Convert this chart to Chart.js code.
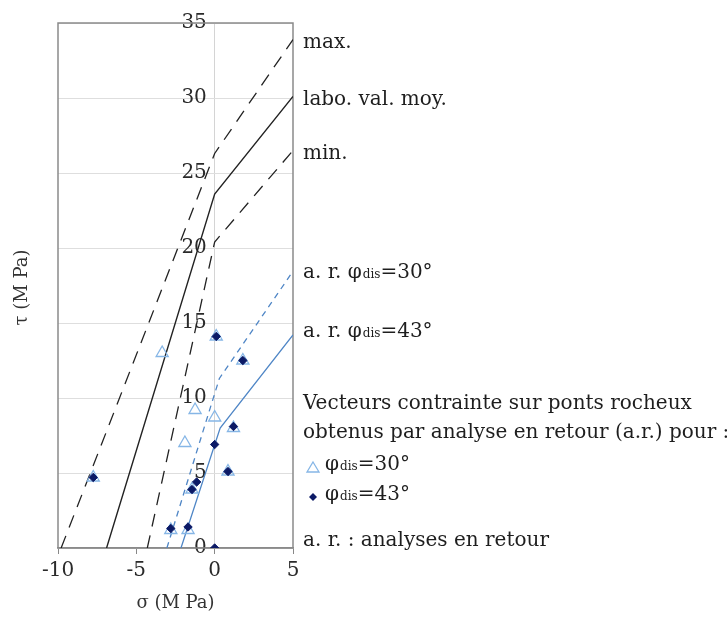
<!DOCTYPE html>
<html>
<head>
<meta charset="utf-8">
<script src="https://cdn.jsdelivr.net/npm/chart.js@4.4.1/dist/chart.umd.min.js"></script>
<style>
  html, body { margin: 0; padding: 0; background: #fff; }
</style>
</head>
<body>
<canvas id="chart" width="727" height="622"></canvas>
<script>
// axes
const xRange = [-10, 5];
const yRange = [0, 35];

// rupture envelopes (sigma, tau) in MPa
const maxEnvX = [-9.8, 0, 5];
const maxEnvY = [0, 26.3, 33.9];
const meanEnvX = [-6.9, 0, 5];
const meanEnvY = [0, 23.6, 30.1];
const minEnvX = [-4.3, 0, 5];
const minEnvY = [0, 20.4, 26.5];

// back-analysis envelopes
const ar30X = [-3.05, 0.3, 5];
const ar30Y = [0, 11.3, 18.45];
const ar43X = [-2.15, 0.35, 5];
const ar43Y = [0, 8.0, 14.2];

// stress vectors on rock bridges
const pts30X = [-3.35, 0.1, 1.8, -1.25, 0, 1.2, -1.9, 0.85, -7.75, -1.45, -2.8, -1.7];
const pts30Y = [13.0, 14.1, 12.5, 9.2, 8.7, 8.0, 7.0, 5.1, 4.7, 3.9, 1.2, 1.2];
const pts43X = [0.1, 1.8, 1.2, 0, 0.85, -7.75, -1.15, -1.45, -2.8, -1.7, 0];
const pts43Y = [14.1, 12.5, 8.1, 6.9, 5.1, 4.7, 4.4, 3.9, 1.3, 1.4, 0];

const curveLabels = ['max.', 'labo. val. moy.', 'min.'];
const noteLines = ['Vecteurs contrainte sur ponts rocheux', 'obtenus par analyse en retour (a.r.) pour :'];
const footNote = 'a. r. : analyses en retour';

const SERIF = '"DejaVu Serif", serif';
const BLUE = '#4f86c6';
const LIGHT_BLUE = '#86b6e6';
const NAVY = '#0c1a66';

const zip = (xs, ys) => xs.map((x, i) => ({ x: x, y: ys[i] }));

function lineSet(xs, ys, color, dash, width) {
    return {
        data: zip(xs, ys),
        showLine: true,
        borderColor: color,
        borderWidth: width,
        borderDash: dash,
        pointRadius: 0,
        fill: false,
        order: 10
    };
}

// draw "prefix φ" + small "dis" + suffix on one baseline
function phiText(ctx, x, y, prefix, suffix) {
    ctx.font = '20px ' + SERIF;
    ctx.fillText(prefix, x, y);
    x += ctx.measureText(prefix).width + 1;
    ctx.font = '12px ' + SERIF;
    ctx.fillText('dis', x, y);
    x += ctx.measureText('dis').width;
    ctx.font = '20px ' + SERIF;
    ctx.fillText(suffix, x, y);
}

const notesPlugin = {
    id: 'notes',
    beforeDatasetsDraw: function (chart) {
        const a = chart.chartArea;
        const ctx = chart.ctx;
        ctx.save();
        ctx.strokeStyle = '#8a8a8a';
        ctx.lineWidth = 1.5;
        ctx.strokeRect(a.left, a.top, a.right - a.left, a.bottom - a.top);
        ctx.restore();
    },
    afterDraw: function (chart) {
        const ctx = chart.ctx;
        const ys = chart.scales.y;
        const a = chart.chartArea;
        const tx = a.right + 10;
        ctx.save();
        ctx.fillStyle = '#1e1e1e';
        ctx.textBaseline = 'alphabetic';
        ctx.textAlign = 'left';

        // labels at the end of each envelope
        const ends = [maxEnvY, meanEnvY, minEnvY];
        ctx.font = '20px ' + SERIF;
        curveLabels.forEach(function (t, i) {
            const yEnd = ends[i][ends[i].length - 1];
            ctx.fillText(t, tx, ys.getPixelForValue(yEnd) + 8);
        });
        phiText(ctx, tx, ys.getPixelForValue(ar30Y[ar30Y.length - 1]) + 7, 'a. r. φ', '=30°');
        phiText(ctx, tx, ys.getPixelForValue(ar43Y[ar43Y.length - 1]) + 2, 'a. r. φ', '=43°');

        ctx.font = '20px ' + SERIF;
        ctx.fillText(noteLines[0], tx, 409);
        ctx.fillText(noteLines[1], tx, 438);

        // legend symbols
        ctx.strokeStyle = LIGHT_BLUE;
        ctx.lineWidth = 1.3;
        ctx.beginPath();
        ctx.moveTo(313, 462);
        ctx.lineTo(319, 472);
        ctx.lineTo(307, 472);
        ctx.closePath();
        ctx.stroke();
        phiText(ctx, tx + 22, 470, 'φ', '=30°');

        ctx.fillStyle = NAVY;
        ctx.beginPath();
        ctx.moveTo(313, 493);
        ctx.lineTo(317, 497);
        ctx.lineTo(313, 501);
        ctx.lineTo(309, 497);
        ctx.closePath();
        ctx.fill();
        ctx.fillStyle = '#1e1e1e';
        phiText(ctx, tx + 22, 500, 'φ', '=43°');

        ctx.font = '20px ' + SERIF;
        ctx.fillText(footNote, tx, 546);

        // vertical axis title
        ctx.translate(22, (a.top + a.bottom) / 2 + 2);
        ctx.rotate(-Math.PI / 2);
        ctx.textAlign = 'center';
        ctx.textBaseline = 'middle';
        ctx.font = '18px ' + SERIF;
        ctx.fillStyle = '#333';
        ctx.fillText('τ (M Pa)', 0, 0);
        ctx.restore();
    }
};

new Chart(document.getElementById('chart').getContext('2d'), {
    type: 'scatter',
    data: {
        datasets: [
            {
                data: zip(pts43X, pts43Y),
                pointStyle: 'rectRot',
                pointRadius: 4.2,
                backgroundColor: NAVY,
                borderColor: NAVY,
                borderWidth: 1,
                order: 1
            },
            {
                data: zip(pts30X, pts30Y),
                pointStyle: 'triangle',
                pointRadius: 7,
                backgroundColor: 'rgba(255,255,255,0)',
                borderColor: LIGHT_BLUE,
                borderWidth: 1.3,
                order: 2
            },
            lineSet(maxEnvX, maxEnvY, '#222', [13, 9], 1.3),
            lineSet(meanEnvX, meanEnvY, '#222', [], 1.4),
            lineSet(minEnvX, minEnvY, '#222', [13, 9], 1.3),
            lineSet(ar30X, ar30Y, BLUE, [6, 5], 1.3),
            lineSet(ar43X, ar43Y, BLUE, [], 1.3)
        ]
    },
    options: {
        responsive: false,
        animation: false,
        layout: { padding: { left: 58, right: 434, top: 23, bottom: 0 } },
        plugins: {
            legend: { display: false },
            tooltip: { enabled: false }
        },
        scales: {
            x: {
                type: 'linear',
                min: xRange[0],
                max: xRange[1],
                afterFit: function (s) { s.height = 74; },
                ticks: {
                    stepSize: 5,
                    color: '#2a2a2a',
                    padding: 5,
                    font: { family: SERIF, size: 20 },
                    maxRotation: 0
                },
                // only the sigma = 0 line is drawn across the plot
                grid: {
                    drawOnChartArea: true,
                    drawTicks: true,
                    tickLength: 6,
                    tickColor: '#888',
                    color: function (c) { return c.tick && c.tick.value === 0 ? '#d4d4d4' : 'rgba(0,0,0,0)'; }
                },
                border: { color: '#8a8a8a', width: 1.5 },
                title: {
                    display: true,
                    text: 'σ (M Pa)',
                    color: '#333',
                    font: { family: SERIF, size: 18 },
                    padding: { top: 4, bottom: 8 }
                }
            },
            y: {
                type: 'linear',
                position: { x: -0.5 },
                min: yRange[0],
                max: yRange[1],
                ticks: {
                    stepSize: 5,
                    color: '#2a2a2a',
                    font: { family: SERIF, size: 20 }
                },
                grid: { color: '#dedede', lineWidth: 1, drawTicks: false },
                border: { display: false }
            }
        }
    },
    plugins: [notesPlugin]
});
</script>
</body>
</html>
